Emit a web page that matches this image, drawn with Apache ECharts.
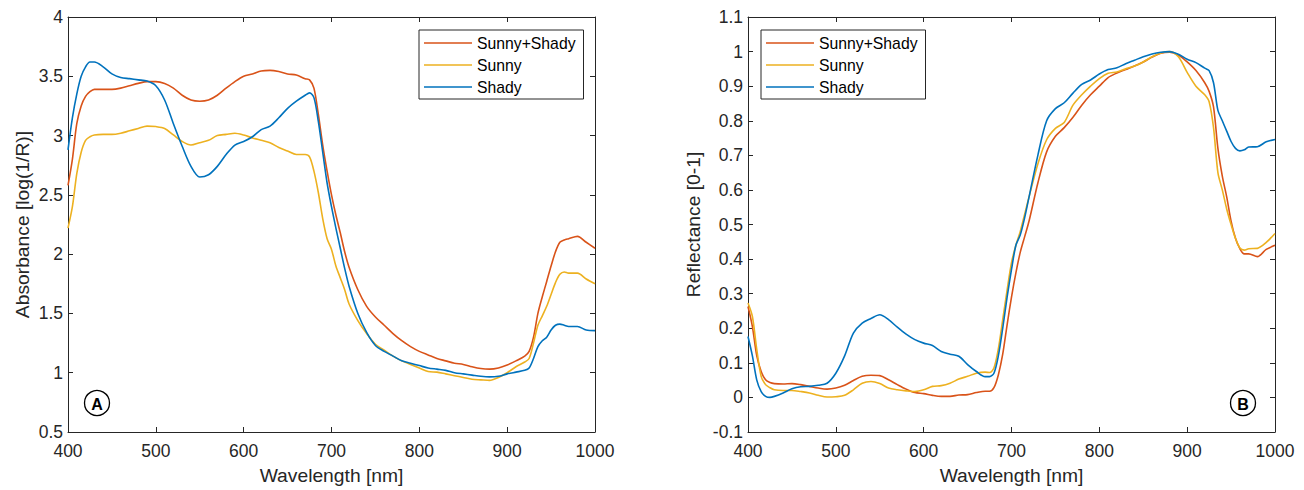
<!DOCTYPE html>
<html>
<head>
<meta charset="utf-8">
<script src="https://cdn.jsdelivr.net/npm/echarts@6/dist/echarts.min.js"></script>
<style>
html,body{margin:0;padding:0;background:#fff;}
#chart{width:1304px;height:490px;}
</style>
</head>
<body>
<div id="chart"></div>
<script>
const wavelength = [400,405,410,415,420,425,430,440,450,460,470,480,490,500,510,520,530,540,550,560,570,580,590,600,610,620,630,640,650,660,670,675,680,685,690,695,700,705,710,715,720,730,740,750,760,770,780,790,800,810,820,830,840,850,860,870,880,890,900,910,920,925,930,935,940,945,950,955,960,965,970,980,990,1000];

const seriesNames = ['Sunny+Shady', 'Sunny', 'Shady'];

// Panel A: Absorbance [log(1/R)]
const absMix = [2.58,2.80,3.10,3.25,3.33,3.37,3.39,3.39,3.39,3.40,3.42,3.44,3.455,3.455,3.44,3.40,3.34,3.30,3.29,3.30,3.34,3.40,3.455,3.50,3.52,3.545,3.55,3.54,3.52,3.51,3.48,3.47,3.40,3.18,2.92,2.70,2.50,2.33,2.18,2.02,1.89,1.70,1.56,1.47,1.40,1.33,1.27,1.22,1.18,1.15,1.12,1.10,1.08,1.07,1.05,1.035,1.03,1.04,1.065,1.10,1.14,1.18,1.30,1.50,1.64,1.77,1.90,2.02,2.10,2.12,2.13,2.15,2.10,2.05];
const absSunny = [2.22,2.40,2.68,2.86,2.96,2.99,3.005,3.01,3.01,3.02,3.04,3.06,3.08,3.076,3.06,3.005,2.95,2.92,2.94,2.96,3.0,3.01,3.02,3.005,2.98,2.96,2.94,2.90,2.87,2.84,2.84,2.82,2.70,2.52,2.30,2.13,2.04,1.90,1.80,1.70,1.58,1.44,1.33,1.24,1.19,1.14,1.10,1.07,1.04,1.01,1.005,0.99,0.975,0.96,0.945,0.94,0.935,0.96,1.0,1.05,1.09,1.12,1.25,1.40,1.48,1.56,1.66,1.76,1.83,1.85,1.84,1.84,1.79,1.75];
const absShady = [2.88,3.15,3.35,3.50,3.58,3.62,3.62,3.58,3.52,3.49,3.48,3.47,3.46,3.42,3.30,3.10,2.91,2.74,2.65,2.67,2.74,2.84,2.92,2.95,2.99,3.05,3.08,3.15,3.23,3.29,3.34,3.36,3.32,3.12,2.86,2.60,2.40,2.22,2.05,1.88,1.73,1.50,1.34,1.23,1.18,1.14,1.10,1.08,1.06,1.04,1.03,1.02,1.00,0.99,0.98,0.97,0.965,0.97,0.99,1.005,1.02,1.04,1.12,1.22,1.27,1.30,1.36,1.40,1.41,1.40,1.39,1.39,1.36,1.355];

// Panel B: Reflectance [0-1]
const refMix = [0.263,0.205,0.12,0.075,0.051,0.043,0.04,0.039,0.04,0.037,0.032,0.027,0.024,0.027,0.035,0.049,0.061,0.064,0.063,0.051,0.037,0.024,0.014,0.011,0.006,0.003,0.003,0.007,0.008,0.014,0.018,0.018,0.028,0.065,0.125,0.21,0.29,0.36,0.42,0.465,0.51,0.62,0.71,0.755,0.78,0.81,0.845,0.875,0.90,0.925,0.938,0.948,0.958,0.97,0.984,0.995,0.998,0.99,0.97,0.945,0.91,0.885,0.84,0.72,0.64,0.58,0.51,0.46,0.43,0.415,0.415,0.407,0.428,0.44];
const refSunny = [0.273,0.234,0.138,0.061,0.037,0.028,0.022,0.02,0.02,0.017,0.013,0.006,0.001,0.002,0.006,0.022,0.041,0.046,0.04,0.027,0.022,0.019,0.017,0.022,0.032,0.034,0.041,0.053,0.061,0.07,0.073,0.072,0.085,0.14,0.225,0.31,0.39,0.44,0.48,0.53,0.58,0.675,0.745,0.778,0.795,0.845,0.875,0.90,0.922,0.937,0.941,0.95,0.958,0.97,0.985,0.996,1.0,0.985,0.94,0.90,0.875,0.855,0.78,0.65,0.60,0.545,0.50,0.46,0.432,0.426,0.43,0.431,0.448,0.474];
const refShady = [0.176,0.12,0.05,0.017,0.003,0.0,0.003,0.013,0.025,0.031,0.032,0.035,0.041,0.07,0.12,0.186,0.215,0.228,0.239,0.225,0.203,0.183,0.167,0.157,0.15,0.133,0.125,0.119,0.095,0.075,0.06,0.06,0.07,0.12,0.20,0.29,0.37,0.44,0.47,0.52,0.58,0.70,0.80,0.835,0.852,0.88,0.905,0.918,0.935,0.948,0.953,0.965,0.975,0.985,0.993,0.998,1.0,0.992,0.978,0.968,0.952,0.945,0.91,0.83,0.80,0.77,0.74,0.72,0.713,0.716,0.724,0.725,0.739,0.746];

const colors = ['#D95319', '#EDB120', '#0072BD'];
const FONT = 'Liberation Sans, Arial, Helvetica, sans-serif';
const AX = '#262626';
const TICK_FS = 17.5, NAME_FS = 19.25, LEG_FS = 15.75;

function pairs(ys) { return wavelength.map((w, i) => [w, ys[i]]); }

function xAx(grid, pos, showLabel, name) {
  return {
    type: 'value', gridIndex: grid, position: pos, min: 400, max: 1000, interval: 100,
    axisLine: { show: true, onZero: false, lineStyle: { color: AX, width: 1 } },
    axisTick: { show: true, inside: true, length: 5, lineStyle: { color: AX } },
    axisLabel: { show: showLabel, color: AX, fontSize: TICK_FS, fontFamily: FONT, margin: 10,
                 formatter: v => String(v) },
    splitLine: { show: false },
    name: name || '', nameLocation: 'middle', nameGap: 34,
    nameTextStyle: { color: AX, fontSize: NAME_FS, fontFamily: FONT }
  };
}
function yAx(grid, pos, showLabel, min, max, interval, name, gap) {
  return {
    type: 'value', gridIndex: grid, position: pos, min: min, max: max, interval: interval,
    axisLine: { show: true, onZero: false, lineStyle: { color: AX, width: 1 } },
    axisTick: { show: true, inside: true, length: 5, lineStyle: { color: AX } },
    axisLabel: { show: showLabel, color: AX, fontSize: TICK_FS, fontFamily: FONT, margin: 5,
                 formatter: v => String(Math.round(v * 10) / 10) },
    splitLine: { show: false },
    name: name || '', nameLocation: 'middle', nameGap: gap || 0,
    nameTextStyle: { color: AX, fontSize: NAME_FS, fontFamily: FONT }
  };
}

const panelData = [[absMix, absSunny, absShady], [refMix, refSunny, refShady]];
const series = [];
panelData.forEach((arrs, p) => {
  arrs.forEach((ys, k) => {
    series.push({
      type: 'line', name: seriesNames[k],
      xAxisIndex: p * 2, yAxisIndex: p * 2,
      data: pairs(ys), symbol: 'none', smooth: 0.3,
      lineStyle: { color: colors[k], width: 1.6 },
      itemStyle: { color: colors[k] },
      z: 2 + k
    });
  });
});

function legend(left) {
  return {
    data: seriesNames, orient: 'vertical', left: left, top: 30,
    icon: 'rect', itemWidth: 48, itemHeight: 1.6, itemGap: 6.0,
    padding: [5, 8, 4, 5],
    borderColor: AX, borderWidth: 1, backgroundColor: '#fff',
    textStyle: { color: '#000', fontSize: LEG_FS, fontFamily: FONT },
    selectedMode: false
  };
}

const chart = echarts.init(document.getElementById('chart'), null, { renderer: 'svg' });
chart.setOption({
  animation: false,
  backgroundColor: '#fff',
  color: colors,
  grid: [
    { left: 68, top: 17, width: 527, height: 415 },
    { left: 748, top: 17, width: 527, height: 415 }
  ],
  xAxis: [
    xAx(0, 'bottom', true, 'Wavelength [nm]'),
    xAx(0, 'top', false),
    xAx(1, 'bottom', true, 'Wavelength [nm]'),
    xAx(1, 'top', false)
  ],
  yAxis: [
    yAx(0, 'left', true, 0.5, 4, 0.5, 'Absorbance [log(1/R)]', 36),
    yAx(0, 'right', false, 0.5, 4, 0.5),
    yAx(1, 'left', true, -0.1, 1.1, 0.1, 'Reflectance [0-1]', 45),
    yAx(1, 'right', false, -0.1, 1.1, 0.1)
  ],
  legend: [legend(419), legend(761)],
  series: series,
  graphic: [
    { type: 'circle', shape: { cx: 97, cy: 403, r: 12.5 }, style: { fill: '#fff', stroke: '#000', lineWidth: 1.3 }, z: 10 },
    { type: 'text', x: 97, y: 404, style: { text: 'A', fontSize: 16, fontWeight: 'bold', fontFamily: FONT, fill: '#000', align: 'center', verticalAlign: 'middle' }, z: 11 },
    { type: 'circle', shape: { cx: 1243, cy: 403, r: 12.5 }, style: { fill: '#fff', stroke: '#000', lineWidth: 1.3 }, z: 10 },
    { type: 'text', x: 1243, y: 404, style: { text: 'B', fontSize: 16, fontWeight: 'bold', fontFamily: FONT, fill: '#000', align: 'center', verticalAlign: 'middle' }, z: 11 }
  ]
});
</script>
</body>
</html>
